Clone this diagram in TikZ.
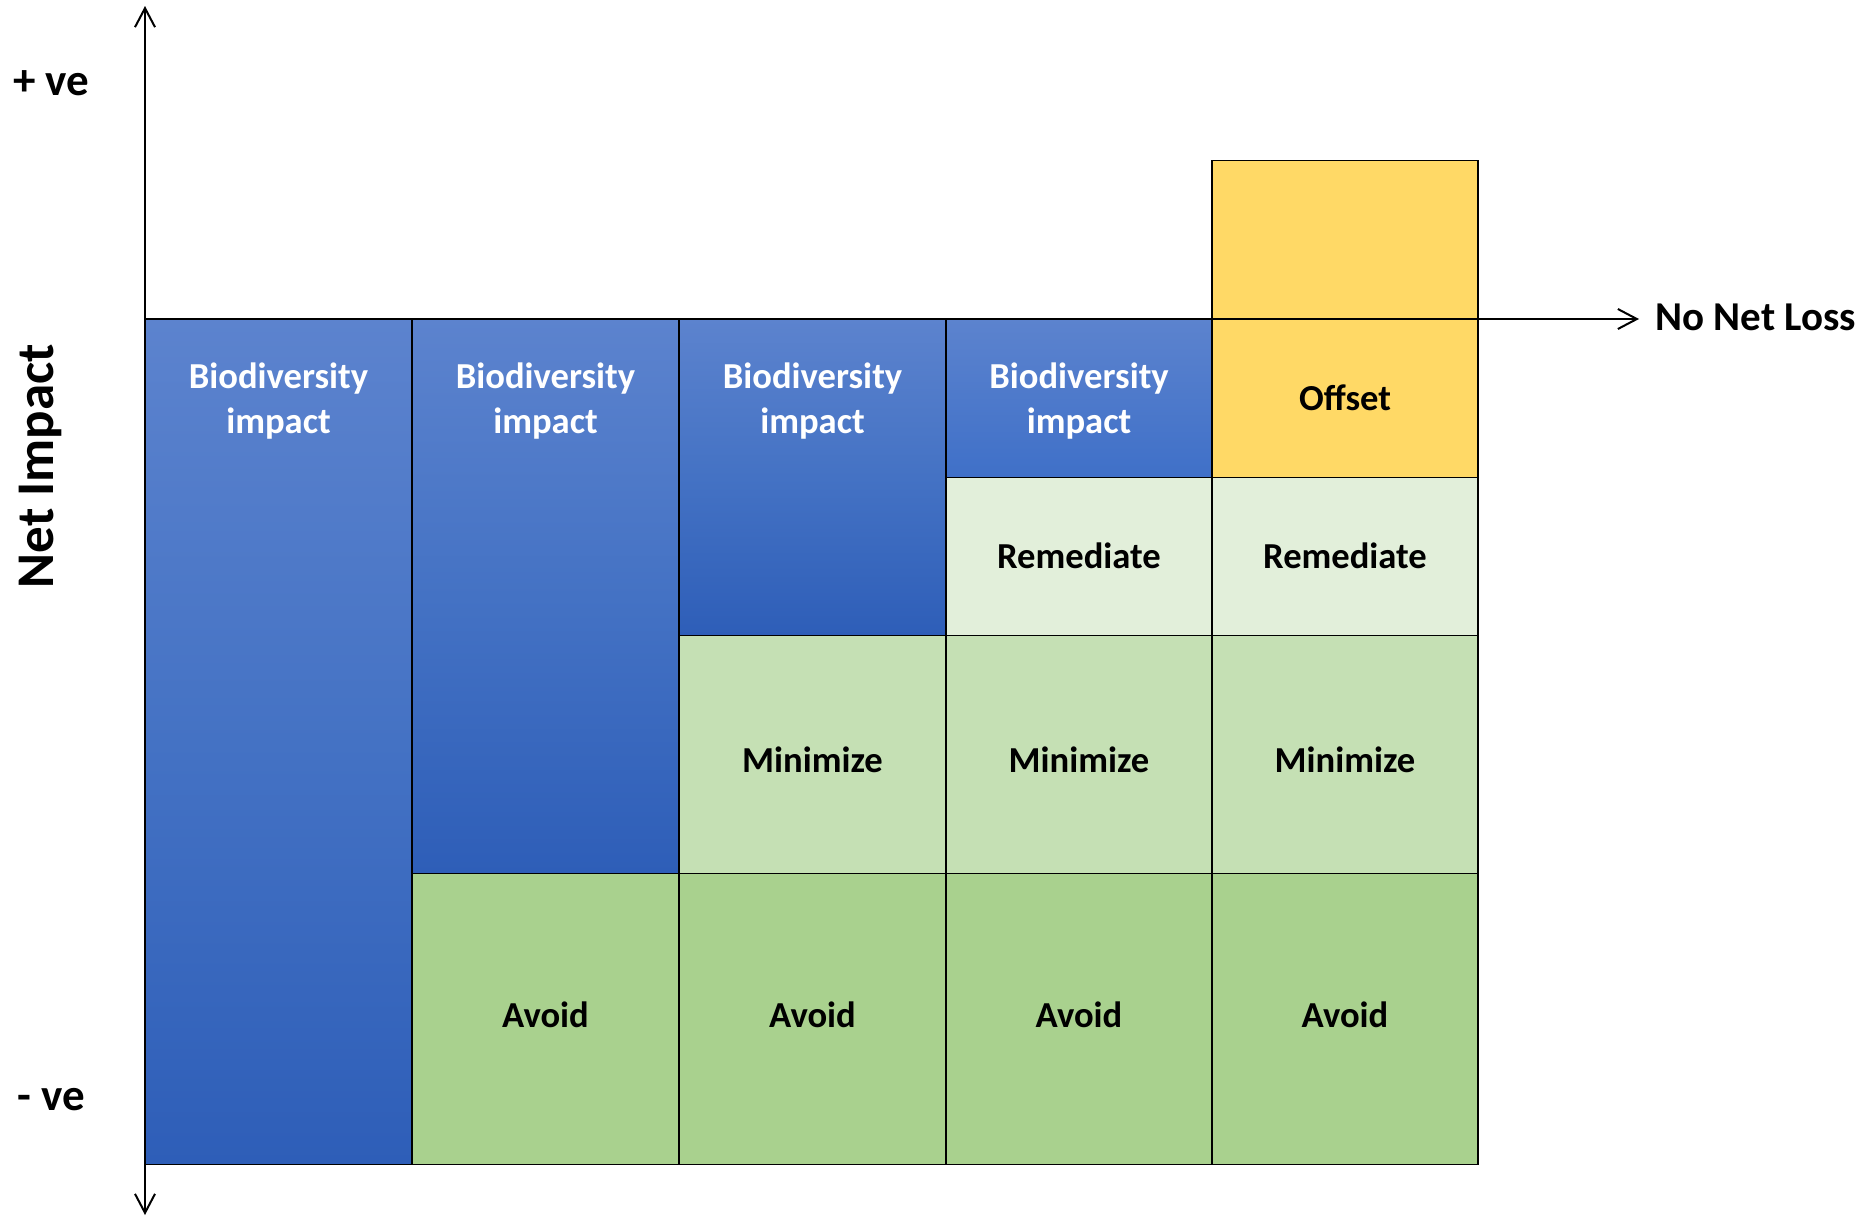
\documentclass[tikz,border=0pt]{standalone}
\usepackage{fontspec}
\setmainfont{Carlito}
\usetikzlibrary{arrows.meta}
\definecolor{remc}{HTML}{E2EFDA}
\definecolor{minc}{HTML}{C5E0B4}
\definecolor{avoc}{HTML}{A9D18E}
\definecolor{offc}{HTML}{FFD966}
\definecolor{bluetop}{RGB}{92,131,206}
\definecolor{bluemid}{RGB}{68,114,196}
\definecolor{bluebot}{RGB}{46,94,184}
\definecolor{bluebotb}{RGB}{63,112,200}
\tikzset{
  cell/.style={draw=black, line width=0.65pt},
  bluecell/.style={cell, top color=bluetop, bottom color=bluebot, middle color=bluemid},
  bluecellshort/.style={cell, top color=bluetop, bottom color=bluebotb},
  boxtext/.style={font=\fontsize{18.3}{22.5}\selectfont\bfseries, inner sep=0pt, align=center},
  whitetext/.style={boxtext, text=white},
  axis/.style={line width=1pt, -{Straight Barb[length=9.5pt,width=10pt,line width=1pt]}},
  bigtext/.style={font=\fontsize{22.5}{27}\selectfont\bfseries, inner sep=0pt}
}
\begin{document}
\begin{tikzpicture}[x=0.5pt,y=-0.5pt]
\useasboundingbox (0,0) rectangle (1868,1216);
% blue columns
\path[bluecell] (145,319) rectangle (412,1164.5);
\path[bluecell] (412,319) rectangle (679,873.5);
\path[bluecell] (679,319) rectangle (946,635.5);
\path[bluecellshort] (946,319) rectangle (1212,477.5);
% offset
\path[cell, fill=offc] (1212,160.5) rectangle (1478,477.5);
% remediate
\path[cell, fill=remc] (946,477.5) rectangle (1212,635.5);
\path[cell, fill=remc] (1212,477.5) rectangle (1478,635.5);
% minimize
\path[cell, fill=minc] (679,635.5) rectangle (946,873.5);
\path[cell, fill=minc] (946,635.5) rectangle (1212,873.5);
\path[cell, fill=minc] (1212,635.5) rectangle (1478,873.5);
% avoid
\path[cell, fill=avoc] (412,873.5) rectangle (679,1164.5);
\path[cell, fill=avoc] (679,873.5) rectangle (946,1164.5);
\path[cell, fill=avoc] (946,873.5) rectangle (1212,1164.5);
\path[cell, fill=avoc] (1212,873.5) rectangle (1478,1164.5);
% texts
\node[whitetext] (b1) at (278.5,401.5) {Biodiversity\\impact};
\node[whitetext] (b2) at (545.5,401.5) {Biodiversity\\impact};
\node[whitetext] (b3) at (812.5,401.5) {Biodiversity\\impact};
\node[whitetext] (b4) at (1079,401.5) {Biodiversity\\impact};
\node[boxtext, anchor=base] (of) at (1345,410) {Offset};
\node[boxtext, anchor=base] (r1) at (1079,568) {Remediate};
\node[boxtext, anchor=base] (r2) at (1345,568) {Remediate};
\node[boxtext, anchor=base] (m1) at (812.5,772.7) {Minimize};
\node[boxtext, anchor=base] (m2) at (1079,772.7) {Minimize};
\node[boxtext, anchor=base] (m3) at (1345,772.7) {Minimize};
\node[boxtext, anchor=base] (a1) at (545.5,1027) {Avoid};
\node[boxtext, anchor=base] (a2) at (812.5,1027) {Avoid};
\node[boxtext, anchor=base] (a3) at (1079,1027) {Avoid};
\node[boxtext, anchor=base] (a4) at (1345,1027) {Avoid};
% axes
\coordinate (o) at (145,319);
\coordinate (ytop) at (145,6);
\coordinate (ybot) at (145,1215);
\coordinate (xend) at (1639,319);
\draw[axis] (o) -- (ytop);
\draw[axis] (o) -- (ybot);
\draw[axis] (o) -- (xend);
\node[font=\fontsize{20.5}{25}\selectfont\bfseries, inner sep=0pt, anchor=base west] (nnl) at (1655,330) {No Net Loss};
\node[bigtext, anchor=base west] (pve) at (13,95) {+ ve};
\node[bigtext, anchor=base west] (mve) at (17,1110) {- ve};
\node[font=\fontsize{26.5}{31}\selectfont\bfseries, inner sep=0pt, rotate=90] (ni) at (40,466) {Net Impact};
\end{tikzpicture}
\end{document}
